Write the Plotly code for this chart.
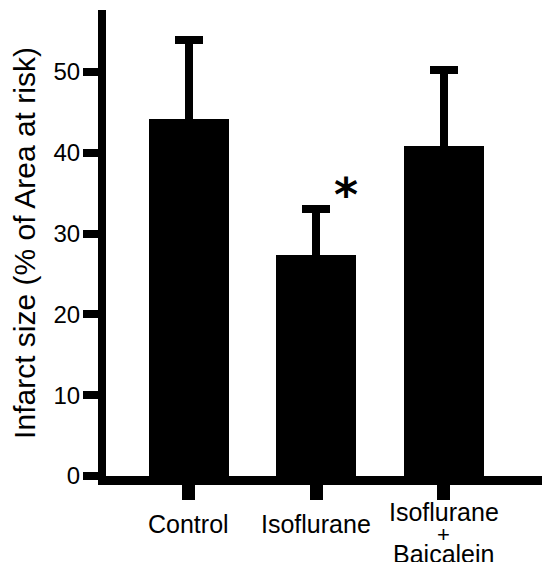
import plotly.graph_objects as go

# ---- data ----
categories = ["Control", "Isoflurane", "Isoflurane + Baicalein"]
label_lines = [["Control"], ["Isoflurane"], ["Isoflurane", "+", "Baicalein"]]
infarct_mean = [44.2, 27.3, 40.9]
infarct_sem = [9.7, 5.7, 9.3]
y_tick_vals = [0, 10, 20, 30, 40, 50]
y_title = "Infarct size (% of Area at risk)"
significance = ["", "*", ""]

FONT = "Liberation Sans, Arial, sans-serif"

fig = go.Figure()
fig.add_trace(go.Bar(
    x=[0, 1, 2],
    y=infarct_mean,
    width=0.626,
    marker=dict(color="black", line=dict(width=0)),
    error_y=dict(type="data", array=infarct_sem, symmetric=True,
                 color="black", thickness=8, width=14),
    showlegend=False,
))

annotations = []
# category labels (each line separately to reproduce tight line spacing)
line_shift_single = -32
multi_shifts = [-20, -44, -61.5]
for i, lines in enumerate(label_lines):
    if len(lines) == 1:
        shifts = [line_shift_single]
    else:
        shifts = multi_shifts[:len(lines)]
    for txt, sh in zip(lines, shifts):
        size = 22 if txt == "+" else 25
        annotations.append(dict(
            x=i, y=0, xref="x", yref="paper", text=txt, showarrow=False,
            xanchor="center", yanchor="top", yshift=sh,
            font=dict(family=FONT, size=size, color="black")))

# significance marker
for i, s in enumerate(significance):
    if s:
        annotations.append(dict(
            x=i, y=infarct_mean[i] + infarct_sem[i], xref="x", yref="y",
            text="<b>" + s + "</b>", showarrow=False, xanchor="center", yanchor="middle",
            xshift=30, yshift=14,
            font=dict(family="DejaVu Sans, sans-serif", size=46, color="black")))

# page body has an 8px default margin: compensate so the plot lands where the reference has it
fig.update_layout(
    width=550, height=562,
    margin=dict(l=98, r=8, t=2, b=94, autoexpand=False),
    paper_bgcolor="white", plot_bgcolor="white",
    font=dict(family=FONT, color="black"),
    bargap=0,
    annotations=annotations,
)
fig.update_xaxes(
    range=[-0.646, 2.83], tickvals=[0, 1, 2], ticktext=["", "", ""],
    showline=True, linewidth=9, linecolor="black",
    ticks="outside", ticklen=15, tickwidth=13, tickcolor="black",
    showgrid=False, zeroline=False, fixedrange=True,
)
fig.update_yaxes(
    range=[0, 57.67], tickvals=y_tick_vals,
    showline=True, linewidth=8, linecolor="black",
    ticks="outside", ticklen=15, tickwidth=8, tickcolor="black",
    tickfont=dict(family=FONT, size=24, color="black"),
    ticklabelstandoff=-2,
    title=dict(text=y_title, font=dict(family=FONT, size=30, color="black"), standoff=14),
    showgrid=False, zeroline=False, fixedrange=True,
)

fig.write_html("out.html")
